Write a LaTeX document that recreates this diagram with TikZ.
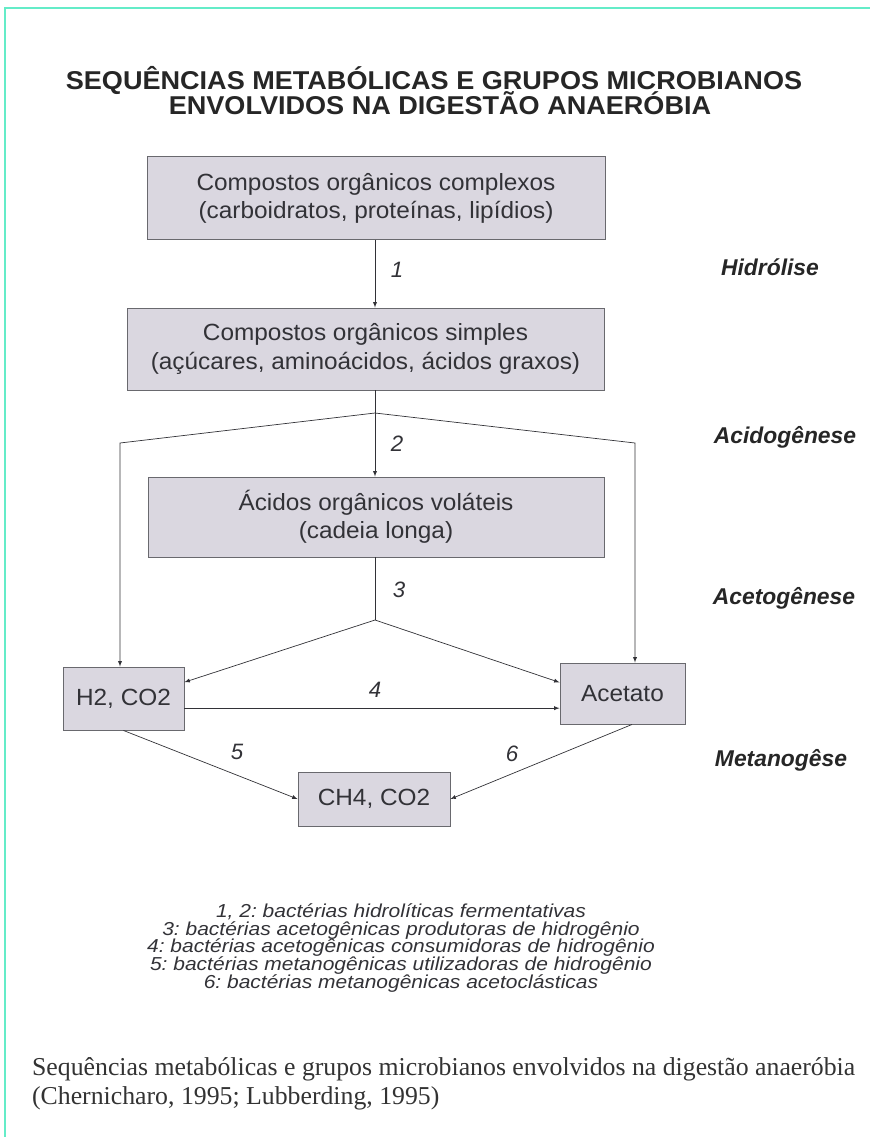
\documentclass[tikz,border=0pt]{standalone}
\usepackage{fontspec}
\setmainfont{Liberation Serif}
\setsansfont{Liberation Sans}
\newfontfamily\boxfont[FakeStretch=1.04]{Liberation Sans}
\newfontfamily\headfont[FakeStretch=1.05]{Liberation Sans}
\newfontfamily\legendfont[FakeStretch=1.12]{Liberation Sans}
\usepackage{tikz}
\usetikzlibrary{positioning,calc}
\frenchspacing

\definecolor{mint}{RGB}{100,236,200}
\definecolor{boxfill}{RGB}{218,215,224}
\definecolor{boxline}{RGB}{105,105,110}
\definecolor{inkgray}{RGB}{50,50,55}

\tikzset{
  box/.style={draw=boxline, fill=boxfill, line width=0.8pt, inner sep=0pt,
    align=center, text=inkgray, font=\boxfont\fontsize{20}{24}\selectfont},
  arr/.style={-latex, draw=inkgray, line width=0.6pt},
  plain/.style={draw=inkgray, line width=0.6pt},
  num/.style={text=inkgray, font=\sffamily\itshape\fontsize{19}{22}\selectfont},
  stage/.style={text=black!85, font=\sffamily\bfseries\itshape\fontsize{19.5}{22}\selectfont},
  heading/.style={text=black!85, font=\headfont\bfseries\fontsize{22}{24}\selectfont}
}

\begin{document}
\begin{tikzpicture}[x=0.03cm,y=-0.03cm]
    \useasboundingbox (0,0) rectangle (870,1137);
    \draw[mint, line width=2pt] (5,1137) -- (5,8) -- (870,8);

    % title
    \node[heading] (head1) at (434,80) {SEQUÊNCIAS METABÓLICAS E GRUPOS MICROBIANOS};
    \node[heading] (head2) at (440,103) {ENVOLVIDOS NA DIGESTÃO ANAERÓBIA};

    % boxes
    \node[box, minimum width=13.74cm, minimum height=2.49cm] (cplx) at (376,198)
      {Compostos orgânicos complexos\\(carboidratos, proteínas, lipídios)};
    \node[box, minimum width=14.31cm, minimum height=2.46cm] (simp) at (365.5,349)
      {Compostos orgânicos simples\\(açúcares, aminoácidos, ácidos graxos)};
    \node[box, minimum width=13.68cm, minimum height=2.4cm] (acid) at (376,517)
      {Ácidos orgânicos voláteis\\(cadeia longa)};
    \node[box, minimum width=3.63cm, minimum height=1.89cm] (h2co2) at (123.5,698.5) {H2, CO2};
    \node[box, minimum width=3.75cm, minimum height=1.83cm] (acet) at (622.5,693.5) {Acetato};
    \node[box, minimum width=4.56cm, minimum height=1.62cm] (ch4) at (374,799) {CH4, CO2};

    % branch points
    \coordinate (b2) at (375,413);
    \coordinate (l2) at (120,443);
    \coordinate (r2) at (635,443);
    \coordinate (b3) at (375,620);

    % connectors
    \draw[arr] (cplx.south -| b2) -- (simp.north -| b2);
    \draw[plain] (simp.south -| b2) -- (b2);
    \draw[arr] (b2) -- (acid.north -| b2);
    \draw[arr] (b2) -- (l2) -- (l2 |- h2co2.north);
    \draw[arr] (b2) -- (r2) -- (r2 |- acet.north);
    \draw[plain] (acid.south -| b3) -- (b3);
    \draw[arr] (b3) -- (h2co2.15);
    \draw[arr] (b3) -- (acet.170);
    \draw[arr] (h2co2.-9) -- (h2co2.-9 -| acet.west);
    \draw[arr] (h2co2.south) -- (ch4.west);
    \draw[arr] (acet.-73) -- (ch4.east);

    % numbers
    \node[num] (n1) at (397,270) {1};
    \node[num] (n2) at (397,444) {2};
    \node[num] (n3) at (399,590) {3};
    \node[num] (n4) at (375,690) {4};
    \node[num] (n5) at (237,752) {5};
    \node[num] (n6) at (512,754) {6};

    % stages
    \node[stage] (s1) at (770,267) {Hidrólise};
    \node[stage] (s2) at (785,437) {Acidogênese};
    \node[stage] (s3) at (784,598) {Acetogênese};
    \node[stage] (s4) at (781,760) {Metanogêse};

    % legend
    \node[text=inkgray, align=center, font=\legendfont\itshape\fontsize{16}{15.3}\selectfont] (legend) at (401,948)
      {1, 2: bactérias hidrolíticas fermentativas\\
       3: bactérias acetogênicas produtoras de hidrogênio\\
       4: bactérias acetogênicas consumidoras de hidrogênio\\
       5: bactérias metanogênicas utilizadoras de hidrogênio\\
       6: bactérias metanogênicas acetoclásticas};

    % caption
    \node[anchor=west, align=left, text=black!80, font=\fontsize{22}{25}\selectfont] (caption) at (28,1084)
      {Sequências metabólicas e grupos microbianos envolvidos na digestão anaeróbia\\
       (Chernicharo, 1995; Lubberding, 1995)};
\end{tikzpicture}
\end{document}
